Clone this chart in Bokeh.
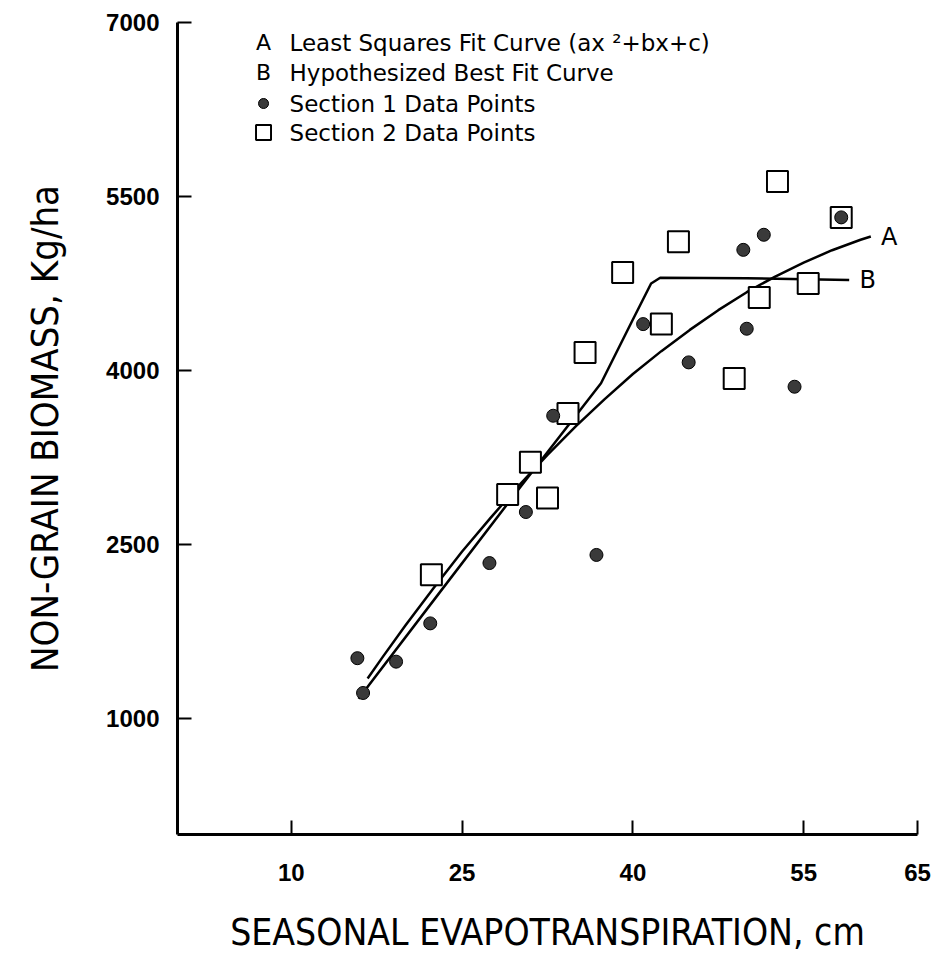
from bokeh.plotting import figure
from bokeh.models import Range1d, FixedTicker
from bokeh.core.properties import value
from bokeh.embed import file_html
from bokeh.resources import INLINE

# ---- data ----
x_ticks = [10, 25, 40, 55, 65]
y_ticks = [1000, 2500, 4000, 5500, 7000]

# Section 1 data points (filled circles)
sec1_x = [15.8, 16.3, 19.2, 22.2, 27.4, 30.6, 33.0, 36.8, 40.9, 44.9, 49.7, 50.0, 51.5, 54.2, 58.3]
sec1_y = [1520, 1220, 1490, 1820, 2340, 2780, 3610, 2410, 4400, 4070, 5040, 4360, 5170, 3860, 5320]

# Section 2 data points (open squares)
sec2_x = [22.3, 29.0, 31.0, 32.5, 34.3, 35.8, 39.1, 42.5, 44.0, 48.9, 51.1, 52.7, 55.4, 58.3]
sec2_y = [2240, 2930, 3210, 2900, 3630, 4155, 4845, 4400, 5110, 3930, 4630, 5630, 4750, 5320]

# Curve A: least squares fit
curveA_x = [16.7, 18.0, 20.0, 22.5, 25.0, 27.5, 30.0, 32.5, 35.0, 37.5, 40.0,
            42.5, 45.0, 47.5, 50.0, 52.5, 55.0, 57.5, 60.0, 60.9]
curveA_y = [1345, 1527, 1800, 2126, 2440, 2730, 3010, 3272, 3520, 3751, 3970,
            4167, 4350, 4520, 4675, 4810, 4930, 5037, 5127, 5155]

# Curve B: hypothesized best fit
curveB_x = [15.9, 22.9, 30.0, 37.2, 40.0, 41.6, 42.4, 50.0, 59.0]
curveB_y = [1170, 2070, 2980, 3890, 4440, 4750, 4800, 4795, 4780]

curve_tags = ["A", "B"]
legend_keys = ["A", "B"]
legend_texts = ["Least Squares Fit Curve (ax \u00b2+bx+c)",
                "Hypothesized Best Fit Curve",
                "Section 1 Data Points",
                "Section 2 Data Points"]

x_title = "SEASONAL EVAPOTRANSPIRATION, cm"
y_title = "NON-GRAIN BIOMASS, Kg/ha"

NARROW = "'DejaVu Sans Condensed', 'Liberation Sans Narrow', 'Roboto Condensed', Roboto, sans-serif"

# ---- figure ----
p = figure(width=940, height=961, x_range=Range1d(0, 65), y_range=Range1d(0, 7000),
           output_backend="svg", toolbar_location=None,
           min_border_left=177, min_border_right=23, min_border_top=22, min_border_bottom=127)
p.outline_line_color = None
p.xgrid.visible = False
p.ygrid.visible = False
p.background_fill_color = "white"
p.border_fill_color = "white"

for ax in (p.xaxis[0], p.yaxis[0]):
    ax.axis_line_width = 3
    ax.axis_line_color = "black"
    ax.major_tick_in = 14
    ax.major_tick_out = 0
    ax.major_tick_line_width = 2
    ax.major_tick_line_color = "black"
    ax.minor_tick_line_color = None
    ax.major_label_text_font = "Liberation Sans"
    ax.major_label_text_font_style = "bold"
    ax.major_label_text_font_size = "24px"
    ax.major_label_text_color = "black"
    ax.axis_label_text_font = NARROW
    ax.axis_label_text_font_style = "normal"
    ax.axis_label_text_color = "black"

p.xaxis.ticker = FixedTicker(ticks=x_ticks)
p.yaxis.ticker = FixedTicker(ticks=y_ticks)
p.xaxis.major_label_standoff = 29
p.yaxis.major_label_standoff = 18
p.xaxis.axis_label = x_title
p.yaxis.axis_label = y_title
p.xaxis.axis_label_text_font_size = "37px"
p.yaxis.axis_label_text_font_size = "38px"
p.xaxis.axis_label_standoff = 27
p.yaxis.axis_label_standoff = 36

# curves
p.line(curveA_x, curveA_y, line_color="black", line_width=2.5, line_join="round")
p.line(curveB_x, curveB_y, line_color="black", line_width=2.5, line_join="round")

# curve end labels
p.text(x=[curveA_x[-1] + 0.9, curveB_x[-1] + 0.9], y=[curveA_y[-1], curveB_y[-1]],
       text=curve_tags, text_font=value("DejaVu Sans"), text_font_size="24px",
       text_baseline="middle", text_align="left", text_color="black")

# data points
p.scatter(sec2_x, sec2_y, marker="square", size=21, fill_color="white",
          line_color="black", line_width=2)
p.scatter(sec1_x, sec1_y, marker="circle", size=13, fill_color="#3a3a3a",
          line_color="black", line_width=1)

# ---- legend (drawn as text + markers) ----
def px2x(px):
    return (px - 177) / 11.38

def py2y(py):
    return (834 - py) / 0.116

leg_rows_py = [42, 72, 103, 132]
key_px = 263
text_px = 289
p.text(x=[px2x(key_px)] * 2, y=[py2y(v) for v in leg_rows_py[:2]], text=legend_keys,
       text_font=value("DejaVu Sans"), text_font_size="22px",
       text_baseline="middle", text_align="center", text_color="black")
p.text(x=[px2x(text_px)] * 4, y=[py2y(v) for v in leg_rows_py], text=legend_texts,
       text_font=value("DejaVu Sans"), text_font_size="23px",
       text_baseline="middle", text_align="left", text_color="black")
p.scatter([px2x(key_px)], [py2y(leg_rows_py[2])], marker="circle", size=10,
          fill_color="#3a3a3a", line_color="black", line_width=1)
p.scatter([px2x(key_px)], [py2y(leg_rows_py[3])], marker="square", size=15,
          fill_color="white", line_color="black", line_width=2)

open("out.html", "w").write(file_html(p, INLINE))
